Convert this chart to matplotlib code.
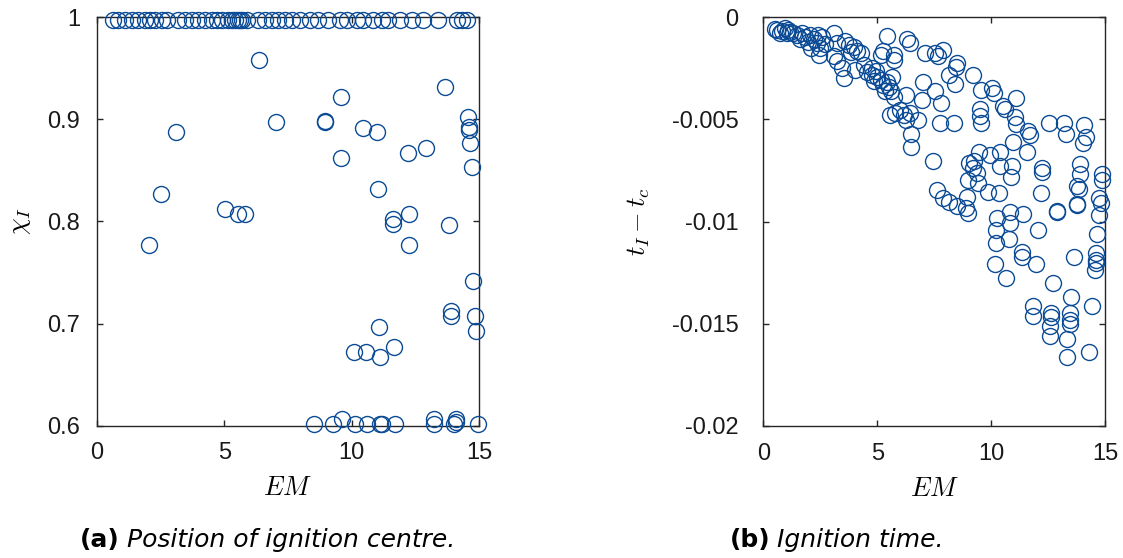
#!/usr/bin/env python3
"""Ignition centre position and ignition time against EM, side by side."""

import matplotlib

matplotlib.use("Agg")
import matplotlib.pyplot as plt  # noqa: E402

MARKER_COLOR = "#0b4b96"
AXIS_COLOR = "#262626"

# (a) position of the ignition centre, chi_I
em_top = [0.65, 0.85, 1.11, 1.37, 1.63, 1.89, 2.09, 2.29, 2.55, 2.75, 3.20, 3.46,
          3.73, 3.98, 4.25, 4.51, 4.71, 4.90, 5.16, 5.30, 5.42, 5.55, 5.60, 5.69,
          5.88, 6.34, 6.60, 6.86, 7.12, 7.38, 7.65, 7.97, 8.36, 8.69, 9.08, 9.54,
          9.80, 10.20, 10.45, 10.85, 11.18, 11.44, 11.89, 12.35, 12.81, 13.40,
          14.12, 14.31, 14.51]
chi_top = [0.997, 0.997, 0.997, 0.997, 0.997, 0.997, 0.997, 0.997, 0.997, 0.997,
           0.997, 0.997, 0.997, 0.997, 0.997, 0.997, 0.997, 0.997, 0.997, 0.997,
           0.997, 0.997, 0.997, 0.997, 0.997, 0.997, 0.997, 0.997, 0.997, 0.997,
           0.997, 0.997, 0.997, 0.997, 0.997, 0.997, 0.997, 0.997, 0.997, 0.997,
           0.997, 0.997, 0.997, 0.997, 0.997, 0.997, 0.997, 0.997, 0.997]
em_mid = [6.37, 13.65, 9.57, 14.57, 7.03, 8.95, 8.97, 14.60, 14.60, 10.45, 3.11,
          10.98, 12.91, 12.20, 14.64, 9.58, 14.70, 11.03, 2.51, 5.03, 5.53, 5.82,
          11.63, 11.63, 12.26, 13.80, 2.06, 12.26, 14.77, 13.88, 13.88, 14.83,
          14.86, 11.08, 11.67, 10.09, 10.56, 11.11]
chi_mid = [0.958, 0.932, 0.922, 0.902, 0.897, 0.897, 0.898, 0.893, 0.890, 0.892,
           0.888, 0.888, 0.872, 0.867, 0.877, 0.862, 0.853, 0.832, 0.827, 0.812,
           0.807, 0.807, 0.802, 0.798, 0.807, 0.797, 0.777, 0.777, 0.742, 0.712,
           0.707, 0.707, 0.693, 0.697, 0.677, 0.672, 0.672, 0.667]
em_low = [8.52, 9.25, 9.63, 10.13, 10.59, 11.11, 11.19, 11.71, 13.24, 13.24,
          14.08, 14.01, 14.08, 14.94]
chi_low = [0.602, 0.602, 0.607, 0.602, 0.602, 0.602, 0.602, 0.602, 0.607, 0.602,
           0.607, 0.602, 0.604, 0.602]

# (b) ignition time relative to t_c
em_b = [0.51, 0.62, 0.81, 0.95, 1.10, 1.17, 1.32, 1.03, 0.73, 1.47, 1.69, 1.83,
        2.05, 1.61, 1.94, 2.23, 2.42, 2.57, 2.35, 2.08, 2.49, 2.46, 2.71, 3.11,
        3.23, 3.59, 3.77, 3.96, 4.11, 3.84, 4.28, 3.11, 3.23, 3.45, 3.55, 4.03,
        4.40, 4.57, 4.77, 4.96, 5.01, 5.16, 5.25, 5.43, 5.51, 5.65, 5.60, 5.75,
        5.35, 4.87, 4.77, 5.25, 5.16, 5.45, 5.75, 5.75, 6.30, 6.42, 7.11, 7.55,
        7.65, 7.87, 8.50, 8.46, 8.14, 8.43, 9.21, 7.01, 7.55, 7.80, 6.28, 6.98,
        5.54, 5.79, 5.98, 6.16, 6.28, 6.45, 6.77, 6.48, 6.48, 7.74, 8.39, 7.43,
        9.56, 10.04, 10.12, 11.11, 9.53, 9.53, 9.56, 10.53, 10.59, 11.03, 11.11,
        11.61, 11.70, 12.54, 13.20, 13.27, 14.08, 14.15, 14.05, 10.97, 10.38,
        9.46, 9.27, 9.94, 11.58, 9.02, 10.41, 10.92, 10.88, 12.24, 12.24, 13.90,
        13.90, 13.78, 13.86, 14.88, 14.88, 14.74, 14.81, 7.62, 7.89, 8.14, 8.50,
        8.91, 8.97, 8.94, 9.41, 8.97, 9.85, 10.34, 12.17, 12.90, 13.78, 9.21,
        9.38, 10.26, 10.85, 10.85, 11.41, 10.23, 10.78, 10.23, 11.37, 11.37,
        12.05, 11.99, 10.15, 10.67, 12.87, 13.78, 14.74, 14.66, 14.59, 14.59,
        14.55, 14.59, 13.64, 12.73, 13.49, 14.44, 11.85, 11.85, 12.64, 12.64,
        12.58, 12.58, 13.46, 13.46, 13.46, 13.31, 13.31, 14.30]
t_b = [-0.59e-3, -0.62e-3, -0.65e-3, -0.54e-3, -0.62e-3, -0.72e-3, -0.78e-3,
       -0.78e-3, -0.75e-3, -0.86e-3, -0.78e-3, -0.98e-3, -0.86e-3, -1.08e-3,
       -1.19e-3, -1.08e-3, -0.86e-3, -0.98e-3, -1.24e-3, -1.52e-3, -1.52e-3,
       -1.84e-3, -1.31e-3, -0.78e-3, -1.24e-3, -1.14e-3, -1.35e-3, -1.47e-3,
       -1.63e-3, -1.71e-3, -1.76e-3, -1.89e-3, -2.12e-3, -2.50e-3, -2.99e-3,
       -2.58e-3, -2.33e-3, -2.66e-3, -2.82e-3, -2.61e-3, -2.94e-3, -3.07e-3,
       -3.31e-3, -3.15e-3, -3.43e-3, -2.90e-3, -3.59e-3, -3.92e-3, -3.59e-3,
       -3.10e-3, -2.50e-3, -1.63e-3, -1.84e-3, -0.91e-3, -1.84e-3, -2.09e-3,
       -1.08e-3, -1.27e-3, -1.76e-3, -1.76e-3, -1.89e-3, -1.60e-3, -2.22e-3,
       -2.41e-3, -2.82e-3, -3.26e-3, -2.82e-3, -3.15e-3, -3.59e-3, -4.21e-3,
       -3.80e-3, -4.05e-3, -4.78e-3, -4.70e-3, -4.54e-3, -4.78e-3, -5.02e-3,
       -4.67e-3, -5.02e-3, -5.71e-3, -6.36e-3, -5.19e-3, -5.15e-3, -7.05e-3,
       -3.56e-3, -3.47e-3, -3.72e-3, -3.96e-3, -4.50e-3, -4.83e-3, -5.15e-3,
       -4.34e-3, -4.50e-3, -4.89e-3, -5.22e-3, -5.55e-3, -5.76e-3, -5.15e-3,
       -5.15e-3, -5.71e-3, -5.27e-3, -5.84e-3, -6.17e-3, -6.08e-3, -6.57e-3,
       -6.57e-3, -7.01e-3, -6.74e-3, -6.57e-3, -7.15e-3, -7.28e-3, -7.28e-3,
       -7.83e-3, -7.39e-3, -7.55e-3, -7.18e-3, -7.67e-3, -8.25e-3, -8.42e-3,
       -7.67e-3, -7.96e-3, -8.86e-3, -9.07e-3, -8.45e-3, -8.86e-3, -9.02e-3,
       -9.23e-3, -9.35e-3, -9.59e-3, -8.81e-3, -8.09e-3, -7.96e-3, -8.53e-3,
       -8.61e-3, -8.61e-3, -9.46e-3, -9.14e-3, -7.39e-3, -7.63e-3, -9.84e-3,
       -9.51e-3, -10.08e-3, -9.63e-3, -10.41e-3, -10.87e-3, -11.06e-3,
       -11.47e-3, -11.72e-3, -10.41e-3, -12.09e-3, -12.09e-3, -12.78e-3,
       -9.51e-3, -9.19e-3, -9.68e-3, -10.62e-3, -11.52e-3, -11.88e-3,
       -12.37e-3, -12.04e-3, -11.75e-3, -12.99e-3, -13.67e-3, -14.13e-3,
       -14.13e-3, -14.62e-3, -14.46e-3, -14.69e-3, -15.11e-3, -15.60e-3,
       -14.46e-3, -14.81e-3, -15.01e-3, -15.76e-3, -16.61e-3, -16.36e-3]

x_ticks = [0, 5, 10, 15]
chi_ticks = [0.6, 0.7, 0.8, 0.9, 1.0]
chi_labels = ["0.6", "0.7", "0.8", "0.9", "1"]
t_ticks = [-0.02, -0.015, -0.01, -0.005, 0.0]
t_labels = ["-0.02", "-0.015", "-0.01", "-0.005", "0"]

plt.rcParams["mathtext.fontset"] = "cm"
TICK_FONT = "Liberation Sans"


def circles(ax, x, y):
    ax.plot(x, y, ls="none", marker="o", ms=11.5, mfc="none",
            mec=MARKER_COLOR, mew=1.0, clip_on=False, zorder=3)


def style(ax, ypad):
    ax.set_xlim(0, 15)
    ax.set_xticks(x_ticks)
    for side in ax.spines.values():
        side.set_color(AXIS_COLOR)
        side.set_linewidth(1.0)
    ax.tick_params(direction="in", length=4, width=1.0, color=AXIS_COLOR,
                   top=True, right=True, labelsize=17, labelcolor="#1a1a1a",
                   pad=12)
    ax.tick_params(axis="y", pad=ypad)
    for lab in ax.get_xticklabels() + ax.get_yticklabels():
        lab.set_fontfamily(TICK_FONT)
    ax.set_xlabel("$EM$", fontsize=19, labelpad=8)


def main():
    fig = plt.figure(figsize=(11.23, 5.58), dpi=100)
    ax_a = fig.add_axes([0.0861, 0.2371, 0.3407, 0.7319])
    ax_b = fig.add_axes([0.6797, 0.2366, 0.3043, 0.7324])

    circles(ax_a, em_top, chi_top)
    circles(ax_a, em_mid, chi_mid)
    circles(ax_a, em_low, chi_low)
    ax_a.set_ylim(0.6, 1.0)
    ax_a.set_yticks(chi_ticks)
    ax_a.set_yticklabels(chi_labels)
    style(ax_a, ypad=12)
    ax_a.set_ylabel(r"$\chi_I$", fontsize=19, labelpad=10)

    circles(ax_b, em_b, t_b)
    ax_b.set_ylim(-0.02, 0.0)
    ax_b.set_yticks(t_ticks)
    ax_b.set_yticklabels(t_labels)
    style(ax_b, ypad=18)
    ax_b.set_ylabel(r"$t_I - t_c$", fontsize=19, labelpad=14)

    # sub-figure captions
    cap = dict(fontsize=18, va="center", family="DejaVu Sans")
    fig.text(80 / 1123, 0.032, "(a)", fontweight="bold", **cap)
    fig.text(127 / 1123, 0.032, "Position of ignition centre.", style="italic", **cap)
    fig.text(730 / 1123, 0.032, "(b)", fontweight="bold", **cap)
    fig.text(777 / 1123, 0.032, "Ignition time.", style="italic", **cap)

    fig.savefig("out.png", dpi=100)


if __name__ == "__main__":
    main()
